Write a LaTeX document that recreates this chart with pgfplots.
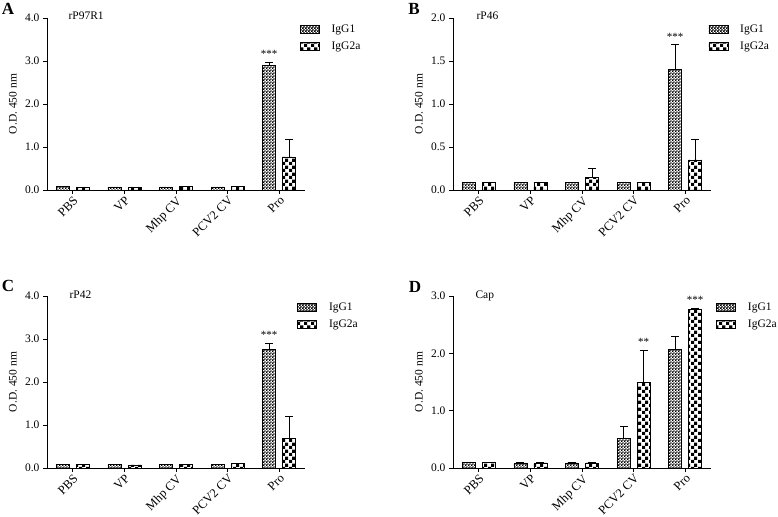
\documentclass[border=0pt]{standalone}
\usepackage{fontspec}
\setmainfont{Liberation Serif}
\usepackage{pgfplots}
\pgfplotsset{compat=1.18}
\usetikzlibrary{patterns}

\pgfdeclarepatternformonly{checker}{\pgfqpoint{0pt}{0pt}}{\pgfqpoint{6.6pt}{6.6pt}}{\pgfqpoint{6.6pt}{6.6pt}}{%
  \pgfpathrectangle{\pgfqpoint{0pt}{0pt}}{\pgfqpoint{3.3pt}{3.3pt}}%
  \pgfpathrectangle{\pgfqpoint{3.3pt}{3.3pt}}{\pgfqpoint{3.3pt}{3.3pt}}%
  \pgfusepath{fill}}
\pgfdeclarepatternformonly{finecheck}{\pgfqpoint{0pt}{0pt}}{\pgfqpoint{2.8pt}{2.8pt}}{\pgfqpoint{2.8pt}{2.8pt}}{%
  \pgfpathrectangle{\pgfqpoint{0pt}{0pt}}{\pgfqpoint{1.6pt}{1.6pt}}%
  \pgfpathrectangle{\pgfqpoint{1.4pt}{1.4pt}}{\pgfqpoint{1.4pt}{1.4pt}}%
  \pgfusepath{fill}}

\pgfplotsset{
  panel/.style={
    scale only axis, width=258pt, height=172pt,
    axis lines=left, axis line style={-, line width=0.8pt},
    ybar, bar width=13pt,
    xmin=-0.5, xmax=4.5, ymin=0,
    xtick={0,1,2,3,4},
    xticklabels={PBS,VP,Mhp CV,PCV2 CV,Pro},
    x tick label style={rotate=45, anchor=north east, font=\fontsize{12.5}{14}\selectfont, inner sep=1pt},
    y tick label style={font=\fontsize{11.5}{13}\selectfont, /pgf/number format/.cd, fixed, fixed zerofill, precision=1},
    /pgf/number format/assume math mode=true,
    tick align=outside, major tick length=4pt,
    tick style={black, line width=0.8pt},
    ylabel={O.D. 450 nm},
    every axis y label/.style={at={(axis description cs:-0.132,0.5)}, rotate=90, anchor=center, font=\fontsize{11.5}{13}\selectfont},
    legend cell align=left,
    legend style={draw=none, fill=none, font=\fontsize{11.5}{13}\selectfont, anchor=north west, row sep=4pt, column sep=10pt, inner sep=0pt},
    legend image code/.code={\draw[##1] (0pt,-4pt) rectangle (19pt,4pt);},
    clip=false,
  },
  g1/.style={draw=black, line width=0.6pt, pattern=finecheck, pattern color=black, bar shift=-10pt,
    error bars/.cd, y dir=plus, y explicit,
    error bar style={line width=0.8pt, black},
    error mark options={black, line width=0.8pt, mark size=4pt, rotate=90}},
  g2/.style={draw=black, line width=0.6pt, pattern=checker, pattern color=black, bar shift=10pt,
    error bars/.cd, y dir=plus, y explicit,
    error bar style={line width=0.8pt, black},
    error mark options={black, line width=0.8pt, mark size=4pt, rotate=90}},
}

\begin{document}
\begin{tikzpicture}[x=1pt,y=1pt]
\useasboundingbox (0,0) rectangle (778,516);

% Panel A
\begin{axis}[panel, at={(47pt,326pt)}, anchor=south west, ymax=4, ytick={0,1,2,3,4},
  legend style={at={(rel axis cs:0.98,0.975)}}]
\addplot[g1] coordinates {(0,0.08) +- (0,0) (1,0.07) +- (0,0) (2,0.07) +- (0,0) (3,0.07) +- (0,0) (4,2.90) +- (0,0.07)};
\addplot[g2] coordinates {(0,0.07) +- (0,0) (1,0.07) +- (0,0) (2,0.08) +- (0,0) (3,0.08) +- (0,0) (4,0.77) +- (0,0.41)};
\legend{IgG1,IgG2a}
\node[anchor=south, font=\fontsize{11}{12}\selectfont, xshift=-10pt, yshift=1pt] at (axis cs:4,2.97) {***};
\node[anchor=base west, font=\fontsize{11.5}{13}\selectfont, xshift=18pt, yshift=-2pt] at (rel axis cs:0,1) {rP97R1};
\end{axis}

% Panel B
\begin{axis}[panel, at={(453pt,326pt)}, anchor=south west, ymax=2, ytick={0,0.5,1,1.5,2},
  legend style={at={(rel axis cs:0.99,0.975)}}]
\addplot[g1] coordinates {(0,0.085) +- (0,0) (1,0.085) +- (0,0) (2,0.085) +- (0,0) (3,0.085) +- (0,0) (4,1.40) +- (0,0.29)};
\addplot[g2] coordinates {(0,0.088) +- (0,0) (1,0.086) +- (0,0) (2,0.145) +- (0,0.11) (3,0.085) +- (0,0) (4,0.35) +- (0,0.24)};
\legend{IgG1,IgG2a}
\node[anchor=south, font=\fontsize{11}{12}\selectfont, xshift=-10pt, yshift=1pt] at (axis cs:4,1.69) {***};
\node[anchor=base west, font=\fontsize{11.5}{13}\selectfont, xshift=20pt, yshift=-2pt] at (rel axis cs:0,1) {rP46};
\end{axis}

% Panel C
\begin{axis}[panel, at={(47pt,48pt)}, anchor=south west, ymax=4, ytick={0,1,2,3,4},
  legend style={at={(rel axis cs:0.97,0.975)}}]
\addplot[g1] coordinates {(0,0.08) +- (0,0) (1,0.08) +- (0,0) (2,0.08) +- (0,0) (3,0.08) +- (0,0) (4,2.75) +- (0,0.15)};
\addplot[g2] coordinates {(0,0.075) +- (0,0) (1,0.07) +- (0,0) (2,0.085) +- (0,0) (3,0.10) +- (0,0) (4,0.68) +- (0,0.52)};
\legend{IgG1,IgG2a}
\node[anchor=south, font=\fontsize{11}{12}\selectfont, xshift=-10pt, yshift=1pt] at (axis cs:4,2.90) {***};
\node[anchor=base west, font=\fontsize{11.5}{13}\selectfont, xshift=19pt, yshift=-2pt] at (rel axis cs:0,1) {rP42};
\end{axis}

% Panel D
\begin{axis}[panel, at={(453pt,48pt)}, anchor=south west, ymax=3, ytick={0,1,2,3},
  legend style={at={(rel axis cs:1.02,0.975)}}]
\addplot[g1] coordinates {(0,0.10) +- (0,0) (1,0.09) +- (0,0) (2,0.09) +- (0,0) (3,0.52) +- (0,0.21) (4,2.07) +- (0,0.23)};
\addplot[g2] coordinates {(0,0.10) +- (0,0) (1,0.09) +- (0,0) (2,0.09) +- (0,0) (3,1.50) +- (0,0.55) (4,2.77) +- (0,0.02)};
\legend{IgG1,IgG2a}
\node[anchor=south, font=\fontsize{11}{12}\selectfont, xshift=10pt, yshift=1pt] at (axis cs:3,2.05) {**};
\node[anchor=south, font=\fontsize{11}{12}\selectfont, xshift=10pt, yshift=1pt] at (axis cs:4,2.79) {***};
\node[anchor=base west, font=\fontsize{11.5}{13}\selectfont, xshift=19pt, yshift=-2pt] at (rel axis cs:0,1) {Cap};
\end{axis}

% Panel letters
\node[font=\fontsize{17}{18}\selectfont\bfseries] at (8,507) {A};
\node[font=\fontsize{17}{18}\selectfont\bfseries] at (414,507) {B};
\node[font=\fontsize{17}{18}\selectfont\bfseries] at (8,230) {C};
\node[font=\fontsize{17}{18}\selectfont\bfseries] at (415,229) {D};
\end{tikzpicture}
\end{document}
